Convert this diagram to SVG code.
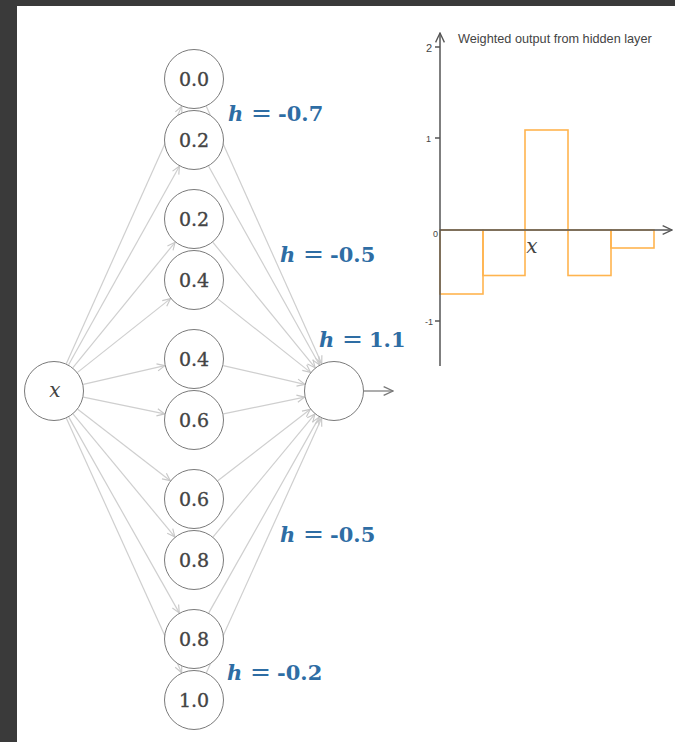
<svg xmlns="http://www.w3.org/2000/svg" width="675" height="742" viewBox="0 0 675 742">
<defs>
<marker id="ah" viewBox="0 0 10 10" refX="9.5" refY="5" markerWidth="9" markerHeight="9" markerUnits="userSpaceOnUse" orient="auto">
<path d="M1,1 L9.5,5 L1,9" fill="none" stroke="#c8c8c8" stroke-width="1.3"/>
</marker>
<marker id="ahd" viewBox="0 0 10 10" refX="9.5" refY="5" markerWidth="11" markerHeight="11" markerUnits="userSpaceOnUse" orient="auto">
<path d="M1,1 L9.5,5 L1,9" fill="none" stroke="#777" stroke-width="1.2"/>
</marker>
<marker id="axa" viewBox="0 0 10 10" refX="9.5" refY="5" markerWidth="11" markerHeight="11" markerUnits="userSpaceOnUse" orient="auto">
<path d="M1,1 L9.5,5 L1,9" fill="none" stroke="#555" stroke-width="1.2"/>
</marker>
</defs>
<style>
.node circle{fill:#fff;stroke:#7a7a7a;stroke-width:1}
.nl{font-family:"DejaVu Serif",serif;font-size:19px;fill:#444;stroke:#444;stroke-width:0.35;text-anchor:middle}
.mx{font-family:"DejaVu Serif",serif;font-style:italic;font-size:20px;fill:#444;text-anchor:middle}
.conn line{stroke:#cfcfcf;stroke-width:1.2;marker-end:url(#ah)}
.hl{font-family:"DejaVu Serif",serif;font-weight:bold;font-size:21px;fill:#2e6da4}
.hh{font-style:italic}
.eq{font-size:25px;font-weight:normal}
.tk{font-family:"Liberation Sans",sans-serif;fill:#444;text-anchor:end}
.ax{stroke:#555;stroke-width:1.5;fill:none}
</style>
<rect x="0" y="0" width="675" height="742" fill="#3a3a3a"/>
<rect x="17" y="6" width="658" height="736" fill="#fff"/>

<g id="connectors" class="conn">
<line x1="66.28" y1="363.63" x2="181.72" y2="106.37"/>
<line x1="68.61" y1="364.80" x2="179.39" y2="166.20"/>
<line x1="72.94" y1="367.73" x2="175.06" y2="242.27"/>
<line x1="77.51" y1="372.36" x2="170.49" y2="298.64"/>
<line x1="83.25" y1="384.32" x2="164.75" y2="365.68"/>
<line x1="83.38" y1="397.08" x2="164.62" y2="413.92"/>
<line x1="77.75" y1="409.32" x2="170.25" y2="480.68"/>
<line x1="73.14" y1="414.10" x2="174.86" y2="536.90"/>
<line x1="68.75" y1="417.12" x2="179.25" y2="612.88"/>
<line x1="66.38" y1="418.33" x2="181.62" y2="672.67"/>
<line x1="206.28" y1="106.37" x2="321.72" y2="363.63"/>
<line x1="208.61" y1="166.20" x2="319.39" y2="364.80"/>
<line x1="212.94" y1="242.27" x2="315.06" y2="367.73"/>
<line x1="217.51" y1="298.64" x2="310.49" y2="372.36"/>
<line x1="223.25" y1="365.68" x2="304.75" y2="384.32"/>
<line x1="223.38" y1="413.92" x2="304.62" y2="397.08"/>
<line x1="217.75" y1="480.68" x2="310.25" y2="409.32"/>
<line x1="213.14" y1="536.90" x2="314.86" y2="414.10"/>
<line x1="208.75" y1="612.88" x2="319.25" y2="417.12"/>
<line x1="206.38" y1="672.67" x2="321.62" y2="418.33"/>
<line x1="364" y1="391" x2="393" y2="391" style="stroke:#777;marker-end:url(#ahd)"/>
</g>

<g id="input" class="node"><circle cx="54" cy="391" r="29.5"/><text class="mx" x="55" y="397">x</text></g>
<g id="h1" class="node"><circle cx="194" cy="79" r="29.5"/><text class="nl" x="194" y="86">0.0</text></g>
<g id="h2" class="node"><circle cx="194" cy="140" r="29.5"/><text class="nl" x="194" y="147">0.2</text></g>
<g id="h3" class="node"><circle cx="194" cy="219" r="29.5"/><text class="nl" x="194" y="226">0.2</text></g>
<g id="h4" class="node"><circle cx="194" cy="280" r="29.5"/><text class="nl" x="194" y="287">0.4</text></g>
<g id="h5" class="node"><circle cx="194" cy="359" r="29.5"/><text class="nl" x="194" y="366">0.4</text></g>
<g id="h6" class="node"><circle cx="194" cy="420" r="29.5"/><text class="nl" x="194" y="427">0.6</text></g>
<g id="h7" class="node"><circle cx="194" cy="499" r="29.5"/><text class="nl" x="194" y="506">0.6</text></g>
<g id="h8" class="node"><circle cx="194" cy="560" r="29.5"/><text class="nl" x="194" y="567">0.8</text></g>
<g id="h9" class="node"><circle cx="194" cy="639" r="29.5"/><text class="nl" x="194" y="646">0.8</text></g>
<g id="h10" class="node"><circle cx="194" cy="700" r="29.5"/><text class="nl" x="194" y="707">1.0</text></g>
<g id="output" class="node"><circle cx="334" cy="391" r="29.5"/></g>

<g id="labels">
<text class="hl" x="228" y="121"><tspan class="hh">h</tspan><tspan class="eq" x="251">=</tspan><tspan x="278">-0.7</tspan></text>
<text class="hl" x="280" y="262"><tspan class="hh">h</tspan><tspan class="eq" x="303">=</tspan><tspan x="330">-0.5</tspan></text>
<text class="hl" x="319" y="347"><tspan class="hh">h</tspan><tspan class="eq" x="342">=</tspan><tspan x="369">1.1</tspan></text>
<text class="hl" x="280" y="542"><tspan class="hh">h</tspan><tspan class="eq" x="303">=</tspan><tspan x="330">-0.5</tspan></text>
<text class="hl" x="227" y="680"><tspan class="hh">h</tspan><tspan class="eq" x="250">=</tspan><tspan x="277">-0.2</tspan></text>
</g>

<g id="chart">
<g fill="none" stroke="#ffb44f" stroke-width="1.6">
<rect x="440" y="230" width="43" height="64"/>
<rect x="483" y="230" width="42" height="45.5"/>
<rect x="525" y="130" width="43" height="100"/>
<rect x="568" y="230" width="43" height="45.5"/>
<rect x="611" y="230" width="43" height="18"/>
</g>
<line class="ax" x1="440" y1="230" x2="672" y2="230" marker-end="url(#axa)"/>
<line class="ax" x1="440" y1="366" x2="440" y2="33" marker-end="url(#axa)"/>
<line class="ax" x1="435" y1="47" x2="440" y2="47" stroke-width="1"/>
<line class="ax" x1="435" y1="138" x2="440" y2="138" stroke-width="1"/>
<line class="ax" x1="435" y1="321" x2="440" y2="321" stroke-width="1"/>
<text class="tk" x="432" y="52" font-size="11">2</text>
<text class="tk" x="431" y="142" font-size="9">1</text>
<text class="tk" x="438" y="237" font-size="9">0</text>
<text class="tk" x="433" y="325" font-size="9">-1</text>
<text x="458" y="43" font-family="Liberation Sans, sans-serif" font-size="12.7" fill="#444">Weighted output from hidden layer</text>
<text class="mx" x="532" y="253" font-size="19">x</text>
</g>
</svg>
